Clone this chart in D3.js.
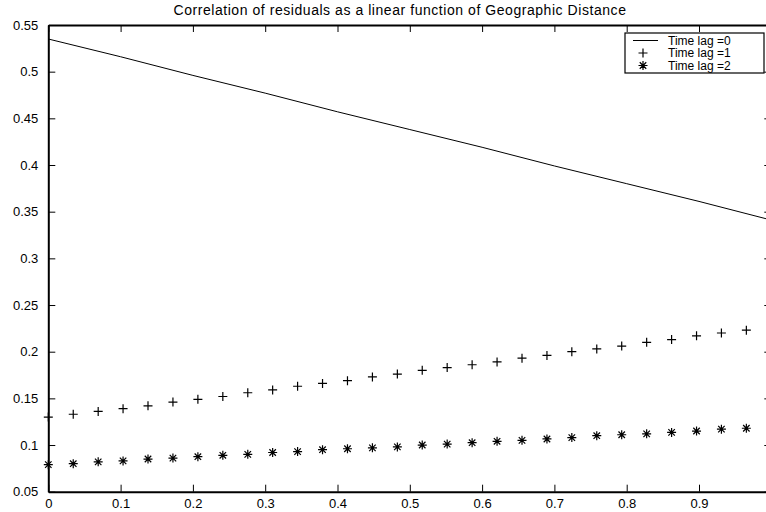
<!DOCTYPE html>
<html>
<head>
<meta charset="utf-8">
<script src="https://cdn.jsdelivr.net/npm/d3@7"></script>
<style>
  body { margin: 0; background: #fff; }
  svg { display: block; font-family: "Liberation Sans", Arial, sans-serif; }
  .axis path, .axis line { stroke: #000; }
  .axis text { font-size: 13px; fill: #000; font-family: "Liberation Sans", Arial, sans-serif; }
</style>
</head>
<body>
<div id="chart"></div>
<script>
const title = "Correlation of residuals as a linear function of Geographic Distance";
const seriesNames = ["Time lag =0", "Time lag =1", "Time lag =2"];

// lag 0: solid line
const lag0X = [0, 0.1, 0.2, 0.3, 0.4, 0.5, 0.6, 0.7, 0.8, 0.9, 1.0];
const lag0Y = [0.535, 0.516, 0.496, 0.477, 0.457, 0.438, 0.419, 0.399, 0.380, 0.361, 0.341];

// lags 1 and 2: point markers at the same distances
const lagX = [0, 0.0345, 0.069, 0.1034, 0.1379, 0.1724, 0.2069, 0.2414, 0.2759, 0.3103,
  0.3448, 0.3793, 0.4138, 0.4483, 0.4828, 0.5172, 0.5517, 0.5862, 0.6207, 0.6552,
  0.6897, 0.7241, 0.7586, 0.7931, 0.8276, 0.8621, 0.8966, 0.931, 0.9655, 1.0];
const lag1Y = [0.130, 0.133, 0.136, 0.139, 0.142, 0.146, 0.149, 0.152, 0.156, 0.159,
  0.163, 0.166, 0.169, 0.173, 0.176, 0.180, 0.183, 0.186, 0.189, 0.193,
  0.196, 0.200, 0.203, 0.206, 0.210, 0.213, 0.217, 0.220, 0.223, 0.227];
const lag2Y = [0.079, 0.080, 0.082, 0.083, 0.085, 0.086, 0.0875, 0.089, 0.090, 0.092,
  0.093, 0.095, 0.096, 0.097, 0.098, 0.100, 0.101, 0.1025, 0.104, 0.105,
  0.1065, 0.108, 0.110, 0.111, 0.112, 0.1135, 0.115, 0.117, 0.118, 0.1195];

const xTicks = [0, 0.1, 0.2, 0.3, 0.4, 0.5, 0.6, 0.7, 0.8, 0.9];
const xTickLabels = ["0", "0.1", "0.2", "0.3", "0.4", "0.5", "0.6", "0.7", "0.8", "0.9"];
const yTicks = [0.05, 0.1, 0.15, 0.2, 0.25, 0.3, 0.35, 0.4, 0.45, 0.5, 0.55];
const yTickLabels = ["0.05", "0.1", "0.15", "0.2", "0.25", "0.3", "0.35", "0.4", "0.45", "0.5", "0.55"];

const width = 766, height = 512;
const plotLeft = 48.3, plotRight = 771.3, plotTop = 25, plotBottom = 491.7;

const svg = d3.select("#chart").append("svg")
  .attr("width", width)
  .attr("height", height);

const x = d3.scaleLinear().domain([0, 1]).range([plotLeft, plotRight]);
const y = d3.scaleLinear().domain([0.05, 0.55]).range([plotBottom, plotTop]);

// frame + ticks (gnuplot style: ticks point inward)
svg.append("g").attr("class", "axis")
  .attr("transform", `translate(0,${plotBottom})`)
  .call(d3.axisBottom(x).tickValues(xTicks).tickSizeInner(-7).tickSizeOuter(0).tickPadding(7)
    .tickFormat((d, i) => xTickLabels[i]));
svg.append("g").attr("class", "axis")
  .attr("transform", `translate(0,${plotTop})`)
  .call(d3.axisTop(x).tickValues(xTicks).tickSizeInner(-7).tickSizeOuter(0).tickFormat(""));
svg.append("g").attr("class", "axis")
  .attr("transform", `translate(${plotLeft},0)`)
  .call(d3.axisLeft(y).tickValues(yTicks).tickSizeInner(-7).tickSizeOuter(0).tickPadding(10)
    .tickFormat((d, i) => yTickLabels[i]));
svg.append("g").attr("class", "axis")
  .attr("transform", `translate(${plotRight},0)`)
  .call(d3.axisRight(y).tickValues(yTicks).tickSizeInner(-7).tickSizeOuter(0).tickFormat(""));

svg.selectAll(".axis .domain").attr("stroke-width", 2);

svg.append("text")
  .attr("x", 400)
  .attr("y", 15)
  .attr("text-anchor", "middle")
  .style("font-size", "14px")
  .style("letter-spacing", "0.55px")
  .text(title);

// lag 0 line
const line = d3.line().x(d => x(d[0])).y(d => y(d[1]));
svg.append("path")
  .datum(d3.zip(lag0X, lag0Y))
  .attr("fill", "none")
  .attr("stroke", "#000")
  .attr("stroke-width", 1)
  .attr("d", line);

const plusPath = s => `M${-s},0H${s}M0,${-s}V${s}`;
const starPath = s => {
  const k = s * 0.72;
  return `M${-s},0H${s}M0,${-s}V${s}M${-k},${-k}L${k},${k}M${-k},${k}L${k},${-k}`;
};

svg.append("g").selectAll("path")
  .data(d3.zip(lagX, lag1Y))
  .join("path")
  .attr("transform", d => `translate(${x(d[0])},${y(d[1])})`)
  .attr("d", plusPath(4.5))
  .attr("stroke", "#000")
  .attr("stroke-width", 1.2);

svg.append("g").selectAll("path")
  .data(d3.zip(lagX, lag2Y))
  .join("path")
  .attr("transform", d => `translate(${x(d[0])},${y(d[1])})`)
  .attr("d", starPath(4.5))
  .attr("stroke", "#000")
  .attr("stroke-width", 1.2);

// legend
const lg = svg.append("g").attr("transform", "translate(625,33)");
lg.append("rect")
  .attr("width", 139).attr("height", 40)
  .attr("fill", "#fff").attr("stroke", "#000").attr("stroke-width", 1.2);
const rowY = [7.5, 20, 32.5];
seriesNames.forEach((name, i) => {
  const g = lg.append("g").attr("transform", `translate(0,${rowY[i]})`);
  if (i === 0) {
    g.append("line").attr("x1", 8).attr("x2", 33).attr("stroke", "#000").attr("stroke-width", 1);
  } else {
    g.append("path").attr("transform", "translate(18,0)")
      .attr("d", i === 1 ? plusPath(4.5) : starPath(4.5))
      .attr("stroke", "#000").attr("stroke-width", 1.2);
  }
  g.append("text").attr("x", 43).attr("dy", "0.35em")
    .style("font-size", "12px").text(name);
});
</script>
</body>
</html>
